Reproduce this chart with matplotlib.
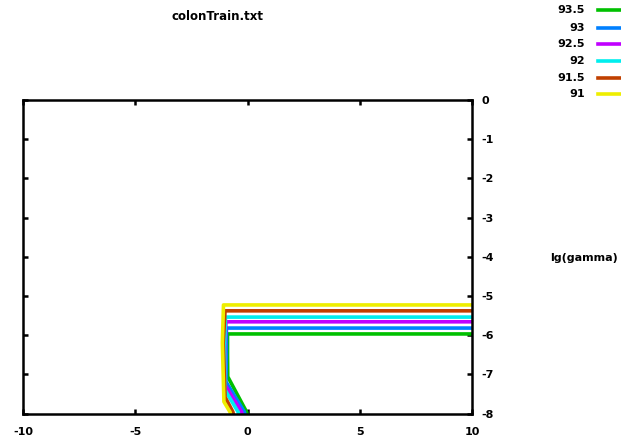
import matplotlib
matplotlib.use("Agg")
import matplotlib.pyplot as plt
from matplotlib.lines import Line2D

# Contour levels (legend order, top to bottom)
levels = ["93.5", "93", "92.5", "92", "91.5", "91"]
colors = ["#00c000", "#0080ff", "#c000ff", "#00eeee", "#c04000", "#eeee00"]

# Each contour polyline: from right edge, horizontal, down near x=-1, then diagonal to bottom
contour_x = {
    "93.5": [10, -0.89, -0.89, -0.88, -0.04, 0.00],
    "93":   [10, -0.94, -0.94, -0.96, -0.14, -0.10],
    "92.5": [10, -0.96, -1.00, -1.00, -0.26, -0.22],
    "92":   [10, -0.98, -1.02, -1.00, -0.42, -0.38],
    "91.5": [10, -1.00, -1.08, -1.00, -0.65, -0.62],
    "91":   [10, -1.07, -1.12, -1.05, -0.78, -0.74],
}
contour_y = {
    "93.5": [-5.97, -5.97, -6.5, -7.06, -7.96, -8.05],
    "93":   [-5.82, -5.82, -6.5, -7.19, -7.96, -8.05],
    "92.5": [-5.66, -5.66, -6.3, -7.27, -7.96, -8.05],
    "92":   [-5.54, -5.54, -6.3, -7.40, -7.96, -8.05],
    "91.5": [-5.38, -5.38, -6.2, -7.58, -7.96, -8.05],
    "91":   [-5.23, -5.23, -6.2, -7.70, -7.96, -8.05],
}

xticks = [-10, -5, 0, 5, 10]
yticks = [0, -1, -2, -3, -4, -5, -6, -7, -8]

fig = plt.figure(figsize=(6.21, 4.44), dpi=100)
ax = fig.add_axes([23/621, 1-413.5/444, (472-23)/621, (413.5-100)/444])

for lev, c in zip(levels, colors):
    ax.plot(contour_x[lev], contour_y[lev], color=c, lw=2.6, solid_joinstyle="round",
            solid_capstyle="butt", clip_on=True)

ax.set_xlim(-10, 10)
ax.set_ylim(-8, 0)
ax.set_xticks(xticks)
ax.set_xticklabels([str(t) for t in xticks])
ax.set_yticks(yticks)
ax.set_yticklabels([str(t) for t in yticks])
ax.yaxis.tick_right()
ax.tick_params(axis="both", direction="in", length=3.5, width=1.8,
               top=True, bottom=True, left=True, right=True,
               labelsize=8, labelfontfamily="DejaVu Sans")
ax.tick_params(axis="x", pad=10)
ax.tick_params(axis="y", pad=7)
for lbl in ax.get_xticklabels() + ax.get_yticklabels():
    lbl.set_fontweight("bold")
for s in ax.spines.values():
    s.set_linewidth(1.8)

fig.text(218/621, 1-16/444, "colonTrain.txt", ha="center", va="center",
         fontsize=8.5, fontweight="bold")
fig.text(584/621, 1-258/444, "lg(gamma)", ha="center", va="center",
         fontsize=8, fontweight="bold")

# Key
key_y = [10, 28, 44, 61, 78, 94]
for lev, c, yy in zip(levels, colors, key_y):
    yf = 1 - yy/444
    fig.text(585/621, yf, lev, ha="right", va="center", fontsize=8, fontweight="bold")
    fig.add_artist(Line2D([598/621, 1.0], [yf, yf], color=c, lw=2.6,
                          transform=fig.transFigure))

fig.savefig("out.png", dpi=100)
